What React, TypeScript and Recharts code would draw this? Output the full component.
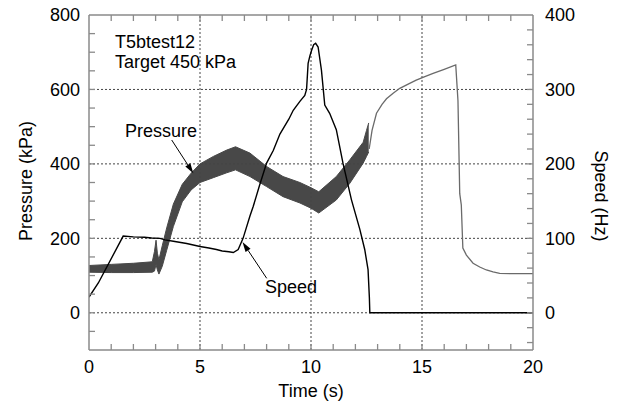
import { ComposedChart, Area, Line, XAxis, YAxis, ReferenceLine } from 'recharts';

// pressure band (oscillating signal) — envelope in kPa
const bandTime = [0, 1.0, 2.0, 2.85, 2.95, 3.02, 3.08, 3.15, 3.3, 3.5, 3.8, 4.2, 4.6, 5.0, 5.6, 6.2, 6.6, 7.25, 8.0, 8.74, 9.5, 10.0, 10.35, 11.14, 11.75, 12.35, 12.5, 12.6];
const bandLow = [109, 108, 108, 109, 112, 130, 115, 104, 125, 168, 232, 298, 330, 350, 363, 376, 384, 366, 339, 312, 295, 281, 268, 303, 348, 402, 420, 432];
const bandHigh = [127, 130, 133, 137, 165, 195, 160, 142, 180, 228, 292, 345, 375, 400, 420, 437, 446, 429, 393, 366, 350, 336, 325, 366, 411, 458, 490, 510];

// pressure after the motor stops (kPa)
const tailTime = [12.62, 12.75, 12.95, 13.2, 13.4, 13.7, 14.0, 14.4, 14.74, 15.1, 15.5, 16.0, 16.52, 16.62, 16.7, 16.77, 16.84, 17.0, 17.3, 17.6, 17.9, 18.2, 18.5, 19.0, 20];
const tailKpa = [440, 490, 536, 560, 575, 590, 603, 615, 625, 634, 643, 654, 666, 570, 320, 290, 174, 155, 133, 123, 115, 110, 106, 105, 105];

// speed (Hz)
const speedTime = [0, 0.42, 1.54, 2.0, 2.5, 2.82, 3.2, 3.42, 3.8, 4.4, 5.0, 5.4, 5.74, 6.0, 6.3, 6.5, 6.72, 6.94, 7.25, 7.4, 7.67, 8.0, 8.3, 8.6, 9.0, 9.2, 9.5, 9.72, 9.8, 9.87, 9.95, 10.02, 10.12, 10.21, 10.32, 10.47, 10.62, 10.84, 11.14, 11.44, 11.82, 12.2, 12.42, 12.57, 12.63, 12.65, 20];
const speedHz = [21, 40, 103, 102, 101.5, 100.5, 100, 98, 96, 93, 89, 87, 85, 83, 82, 81, 85, 100, 130, 143, 170, 201, 218, 240, 260, 272, 284, 292, 300, 335, 345, 352, 360, 362, 357, 326, 279, 268, 246, 201, 152, 112, 85, 58, 20, 0, 0];

// ticks: every value gets an inward tick mark, labels only on the major ones
const timeTicks = [0, 1, 2, 3, 4, 5, 6, 7, 8, 9, 10, 11, 12, 13, 14, 15, 16, 17, 18, 19, 20];
const timeLabels = [0, 5, 10, 15, 20];
const timeGrid = [5, 10, 15];
const kpaTicks = [-100, -50, 0, 50, 100, 150, 200, 250, 300, 350, 400, 450, 500, 550, 600, 650, 700, 750, 800];
const kpaLabels = [0, 200, 400, 600, 800];
const kpaGrid = [0, 200, 400, 600];
const hzTicks = [-40, -20, 0, 20, 40, 60, 80, 100, 120, 140, 160, 180, 200, 220, 240, 260, 280, 300, 320, 340, 360, 380, 400];
const hzLabels = [0, 100, 200, 300, 400];

const bandData = bandTime.map((t, i) => ({ t, band: [bandLow[i], bandHigh[i]] }));
const tailData = tailTime.map((t, i) => ({ t, kpa: tailKpa[i] }));
const speedData = speedTime.map((t, i) => ({ t, hz: speedHz[i] }));

const FONT = '"Liberation Sans", Arial, Helvetica, sans-serif';
const FRAME = '#8a8a8a';
const GRID = '#444';
const TOP = 15; // chart top margin = top edge of the frame
const TICK = 6;

function TimeTick({ x, y, payload }: any) {
  const v = payload.value;
  const axisY = y - 10;
  const inner = v > 0 && v < 20;
  return (
    <g>
      {inner && <line x1={x} y1={axisY} x2={x} y2={axisY - TICK} stroke={FRAME} strokeWidth={1.3} />}
      {inner && <line x1={x} y1={TOP} x2={x} y2={TOP + TICK} stroke={FRAME} strokeWidth={1.3} />}
      {timeLabels.includes(v) && (
        <text x={x} y={y} dy="0.71em" textAnchor="middle" fontSize={18} fontFamily={FONT} fill="#000">{v}</text>
      )}
    </g>
  );
}

function KpaTick({ x, y, payload }: any) {
  const v = payload.value;
  const axisX = x + 9;
  const inner = v > -100 && v < 800;
  return (
    <g>
      {inner && <line x1={axisX} y1={y} x2={axisX + TICK} y2={y} stroke={FRAME} strokeWidth={1.3} />}
      {kpaLabels.includes(v) && (
        <text x={x} y={y} dy="0.355em" textAnchor="end" fontSize={18} fontFamily={FONT} fill="#000">{v}</text>
      )}
    </g>
  );
}

function HzTick({ x, y, payload }: any) {
  const v = payload.value;
  const axisX = x - 12;
  const inner = v > -50 && v < 400;
  return (
    <g>
      {inner && <line x1={axisX} y1={y} x2={axisX - TICK} y2={y} stroke={FRAME} strokeWidth={1.3} />}
      {hzLabels.includes(v) && (
        <text x={x} y={y} dy="0.355em" textAnchor="start" fontSize={18} fontFamily={FONT} fill="#000">{v}</text>
      )}
    </g>
  );
}

function Arrow({ x1, y1, x2, y2 }: { x1: number; y1: number; x2: number; y2: number }) {
  const dx = x2 - x1;
  const dy = y2 - y1;
  const len = Math.sqrt(dx * dx + dy * dy);
  const ux = dx / len;
  const uy = dy / len;
  const hl = 10;
  const hw = 3;
  const bx = x2 - ux * hl;
  const by = y2 - uy * hl;
  const pts = `${x2},${y2} ${bx - uy * hw},${by + ux * hw} ${bx + uy * hw},${by - ux * hw}`;
  return (
    <g>
      <line x1={x1} y1={y1} x2={bx} y2={by} stroke="#000" strokeWidth={1} />
      <polygon points={pts} fill="#000" />
    </g>
  );
}

export default function App() {
  return (
    <div style={{ position: 'absolute', left: 0, top: 0, width: 622, height: 403, background: '#fff', fontFamily: FONT }}>
      <ComposedChart width={622} height={403} margin={{ top: TOP, right: 0, bottom: 0, left: 0 }}>
        <XAxis
          xAxisId="x"
          dataKey="t"
          type="number"
          domain={[0, 20]}
          ticks={timeTicks}
          interval={0}
          height={53}
          tickLine={false}
          tickSize={0}
          tickMargin={10}
          axisLine={{ stroke: FRAME, strokeWidth: 1.5 }}
          tick={<TimeTick />}
          allowDataOverflow
        />
        <YAxis
          yAxisId="p"
          type="number"
          domain={[-100, 800]}
          ticks={kpaTicks}
          interval={0}
          width={89}
          tickLine={false}
          tickSize={0}
          tickMargin={9}
          axisLine={{ stroke: FRAME, strokeWidth: 1.5 }}
          tick={<KpaTick />}
          allowDataOverflow
        />
        <YAxis
          yAxisId="s"
          orientation="right"
          type="number"
          domain={[-50, 400]}
          ticks={hzTicks}
          interval={0}
          width={89}
          tickLine={false}
          tickSize={0}
          tickMargin={12}
          axisLine={{ stroke: FRAME, strokeWidth: 1.5 }}
          tick={<HzTick />}
          allowDataOverflow
        />
        {timeGrid.map((v) => (
          <ReferenceLine key={`vx${v}`} x={v} xAxisId="x" yAxisId="p" stroke={GRID} strokeDasharray="2 2" strokeWidth={1} />
        ))}
        {kpaGrid.map((v) => (
          <ReferenceLine key={`hy${v}`} y={v} xAxisId="x" yAxisId="p" stroke={GRID} strokeDasharray="2 2" strokeWidth={1} />
        ))}
        <ReferenceLine y={800} xAxisId="x" yAxisId="p" stroke={FRAME} strokeWidth={1.5} />
        <Area
          data={bandData}
          dataKey="band"
          xAxisId="x"
          yAxisId="p"
          type="linear"
          fill="#484848"
          fillOpacity={1}
          stroke="#484848"
          strokeWidth={1}
          isAnimationActive={false}
        />
        <Line
          data={tailData}
          dataKey="kpa"
          xAxisId="x"
          yAxisId="p"
          type="linear"
          stroke="#6a6a6a"
          strokeWidth={1.3}
          dot={false}
          isAnimationActive={false}
        />
        <Line
          data={speedData}
          dataKey="hz"
          xAxisId="x"
          yAxisId="s"
          type="linear"
          stroke="#000"
          strokeWidth={1.4}
          dot={false}
          isAnimationActive={false}
        />
      </ComposedChart>

      {/* annotations and axis titles */}
      <svg width={622} height={403} style={{ position: 'absolute', left: 0, top: 0, pointerEvents: 'none' }}>
        <g fontFamily={FONT} fontSize={18} fill="#000">
          <text x={115} y={48}>T5btest12</text>
          <text x={115} y={68}>Target 450 kPa</text>
          <text x={125} y={137}>Pressure</text>
          <text x={265} y={293}>Speed</text>
          <text x={311} y={397} textAnchor="middle">Time (s)</text>
          <text x={31.5} y={181} textAnchor="middle" transform="rotate(-90 31.5 181)">Pressure (kPa)</text>
          <text x={595} y={196} textAnchor="middle" transform="rotate(90 595 196)">Speed (Hz)</text>
        </g>
        <Arrow x1={171.7} y1={140} x2={193.3} y2={173.3} />
        <Arrow x1={266.7} y1={278.3} x2={242.5} y2={242} />
      </svg>
    </div>
  );
}
